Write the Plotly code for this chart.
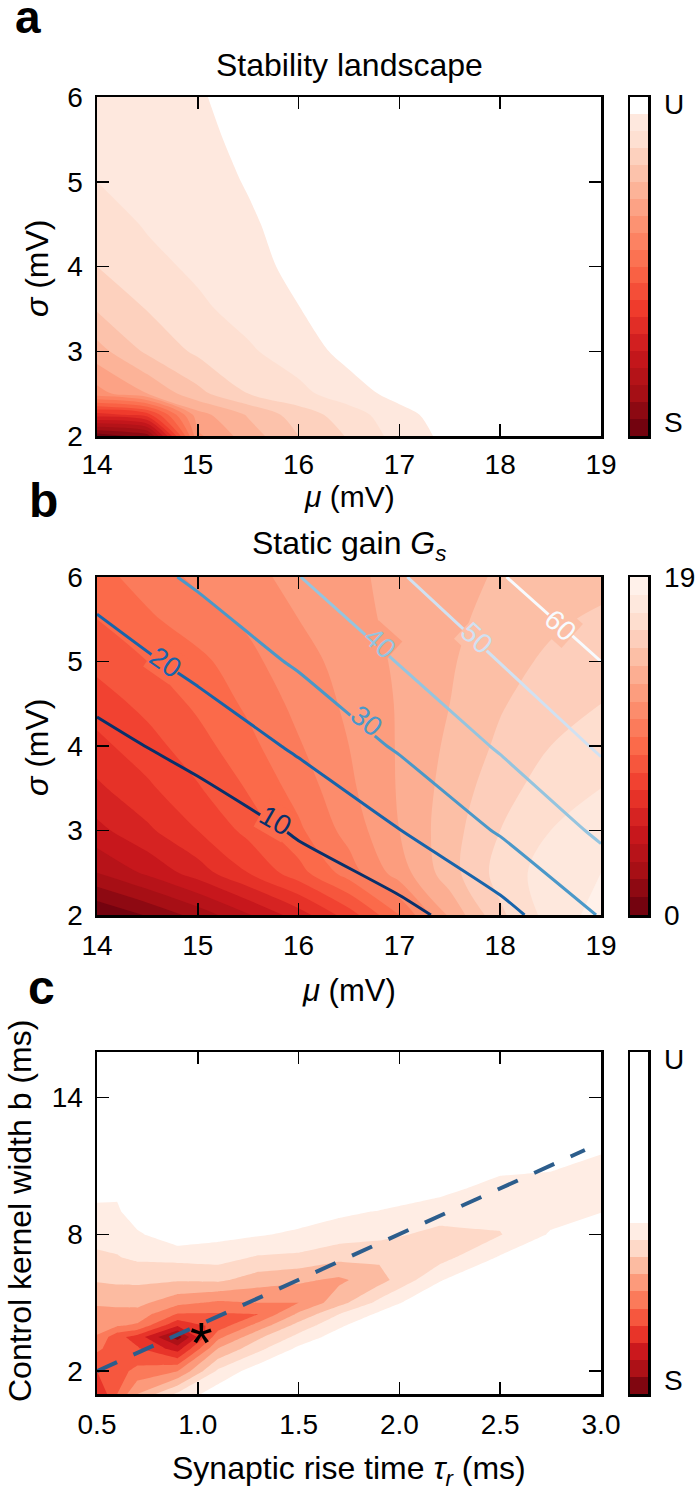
import numpy as np
import plotly.graph_objects as go

# ---------------- data ----------------
# Panel a : stability landscape (0 = stable S ... 20 = unstable U)
mu_a = [14.0, 14.5, 15.0, 15.5, 16.0, 16.5, 17.0, 17.5, 18.0, 18.5, 19.0]
sigma_a = [2.0, 2.25, 2.5, 3.0, 3.5, 4.0, 4.5, 5.0, 5.5, 6.0]
stability_a = [
    [0.3, 1.5, 12.8, 14.5, 16.0, 17.1, 18.4, 19.3, 19.6, 19.6, 19.6],
    [6.5, 7.5, 13.6, 15.1, 16.5, 17.5, 18.7, 19.45, 19.6, 19.6, 19.6],
    [12.6, 14.0, 15.7, 17.0, 17.7, 18.6, 19.3, 19.6, 19.6, 19.6, 19.6],
    [14.6, 16.2, 17.2, 17.85, 18.55, 19.3, 19.6, 19.6, 19.6, 19.6, 19.6],
    [16.1, 17.05, 17.8, 18.4, 18.98, 19.4, 19.6, 19.6, 19.6, 19.6, 19.6],
    [17.0, 17.7, 18.2, 18.75, 19.2, 19.6, 19.6, 19.6, 19.6, 19.6, 19.6],
    [17.5, 18.1, 18.5, 18.9, 19.3, 19.6, 19.6, 19.6, 19.6, 19.6, 19.6],
    [18.0, 18.35, 18.7, 19.05, 19.35, 19.6, 19.6, 19.6, 19.6, 19.6, 19.6],
    [18.3, 18.55, 18.85, 19.15, 19.4, 19.6, 19.6, 19.6, 19.6, 19.6, 19.6],
    [18.5, 18.75, 18.95, 19.2, 19.45, 19.6, 19.6, 19.6, 19.6, 19.6, 19.6],
]

# Panel b : static gain G_s (filled) and rate contours (lines)
mu_b = [14.0, 14.5, 15.0, 15.5, 16.0, 16.5, 17.0, 17.5, 18.0, 18.5, 19.0]
sigma_b = [2.0, 2.5, 3.0, 3.5, 4.0, 4.5, 5.0, 5.5, 6.0]
gain_b = [
    [0.0, 1.1, 2.4, 3.9, 5.5, 7.5, 10.0, 13.2, 15.8, 17.4, 18.4],
    [3.0, 4.2, 5.5, 7.0, 8.6, 10.5, 12.5, 14.6, 16.4, 17.5, 18.0],
    [4.7, 5.8, 7.0, 8.3, 9.8, 11.4, 13.0, 14.6, 16.0, 17.0, 17.6],
    [5.8, 6.8, 7.9, 9.1, 10.4, 11.8, 13.1, 14.4, 15.6, 16.5, 17.0],
    [6.7, 7.6, 8.6, 9.7, 10.9, 12.0, 13.1, 14.2, 15.2, 16.0, 16.5],
    [7.5, 8.3, 9.2, 10.2, 11.3, 12.2, 13.1, 14.0, 14.9, 15.6, 16.0],
    [8.3, 9.0, 9.7, 10.7, 11.7, 12.3, 13.2, 13.9, 14.6, 15.2, 15.5],
    [9.0, 9.8, 10.6, 11.2, 12.0, 12.6, 13.3, 13.8, 14.3, 14.8, 15.2],
    [9.6, 10.5, 11.2, 11.75, 12.27, 12.8, 13.27, 13.7, 14.1, 14.4, 14.6],
]
mu_rate = [14.0, 15.0, 16.0, 17.0, 18.0, 19.0]
sigma_rate = [2.0, 3.0, 4.0, 5.0, 6.0]
rate_b = [
    [1.8, 2.8, 4.2, 7.0, 16.6, 30.7],
    [2.5, 5.0, 10.8, 19.8, 31.0, 41.7],
    [7.5, 12.8, 21.5, 31.2, 41.0, 51.2],
    [14.8, 23.0, 31.2, 40.4, 50.2, 60.0],
    [24.1, 31.5, 39.8, 49.2, 59.4, 69.0],
]
rate_levels = [10, 20, 30, 40, 50, 60]
# inline label placement (mu, sigma, angle in degrees)
rate_label_mu = [15.77, 14.68, 16.67, 16.80, 17.76, 18.60]
rate_label_sigma = [3.12, 4.99, 4.30, 5.22, 5.28, 5.43]
rate_label_angle = [30, 35, 39, 42, 43, 42]

# Panel c : stability vs synaptic rise time and kernel width
tau_c = [0.5, 0.6, 0.7, 0.9, 1.1, 1.3, 1.5, 1.7, 1.9, 2.2, 2.5, 2.75, 3.0]
width_c = [1, 2, 3, 3.5, 4, 4.5, 5, 6, 7, 8, 9, 10, 11, 12, 14, 16]
stability_c_cols = [  # one list per tau value, along width_c
    [3.0, 4.0, 5.2, 5.9, 6.4, 6.75, 7.1, 8.1, 8.85, 9.3, 9.75, 10.4, 11.3, 12.2, 13.5, 15.0],
    [5.0, 4.6, 4.5, 4.3, 6.1, 6.7, 7.2, 8.2, 8.95, 9.35, 9.85, 10.2, 11.2, 12.2, 13.5, 15.0],
    [7.0, 5.3, 4.1, 3.6, 5.85, 6.6, 7.3, 8.2, 9.2, 9.85, 10.6, 11.3, 12.0, 12.8, 14.0, 15.0],
    [9.2, 6.0, 2.5, 0.5, 3.1, 4.9, 6.3, 8.1, 9.3, 10.7, 11.5, 12.2, 12.8, 13.4, 14.5, 15.5],
    [10.6, 9.2, 7.0, 5.7, 4.4, 4.9, 5.8, 8.2, 9.4, 10.3, 11.0, 11.7, 12.4, 13.0, 14.0, 15.0],
    [12.0, 10.6, 8.7, 7.8, 6.4, 5.0, 6.0, 7.5, 8.9, 10.1, 11.0, 11.7, 12.3, 12.9, 14.0, 15.0],
    [13.0, 11.8, 10.2, 9.3, 8.4, 7.2, 6.0, 7.2, 8.8, 9.8, 10.6, 11.3, 12.0, 12.6, 13.6, 14.6],
    [14.0, 13.0, 11.2, 10.5, 9.8, 9.0, 7.6, 6.8, 8.3, 9.5, 10.2, 10.9, 11.6, 12.2, 13.3, 14.3],
    [15.0, 14.0, 12.5, 11.8, 11.0, 10.2, 9.3, 7.6, 8.2, 9.3, 9.95, 10.9, 11.5, 12.1, 13.1, 14.0],
    [16.0, 15.0, 14.0, 13.4, 12.7, 12.0, 11.2, 9.9, 8.6, 8.7, 9.5, 10.3, 11.0, 11.6, 12.7, 13.6],
    [17.0, 16.0, 15.0, 14.5, 14.0, 13.4, 12.8, 11.5, 10.1, 8.95, 9.3, 9.6, 10.3, 11.0, 12.2, 13.2],
    [18.0, 17.0, 16.0, 15.5, 15.0, 14.5, 13.9, 12.6, 11.2, 10.1, 9.6, 9.7, 10.1, 10.8, 12.0, 13.0],
    [19.0, 18.0, 17.0, 16.5, 16.0, 15.5, 15.0, 13.6, 12.3, 11.0, 9.95, 9.7, 9.8, 10.2, 11.5, 12.5],
]
optimal_tau = [0.5, 1.0, 1.5, 2.0, 2.5, 2.92]
optimal_width = [2.0, 4.0, 6.0, 8.0, 10.0, 11.7]
star_tau = [1.02]
star_width = [3.85]

ticks_mu = [14, 15, 16, 17, 18, 19]
ticks_sigma = [2, 3, 4, 5, 6]
ticks_tau = [0.5, 1.0, 1.5, 2.0, 2.5, 3.0]
ticks_width = [2, 8, 14]

# ---------------- colours ----------------
REDS = [(0.0, (255, 245, 240)), (0.125, (254, 224, 210)), (0.25, (252, 187, 161)),
        (0.375, (252, 146, 114)), (0.5, (251, 106, 74)), (0.625, (239, 59, 44)),
        (0.75, (203, 24, 29)), (0.875, (165, 15, 21)), (1.0, (103, 0, 13))]
BLUES = [(0.0, (247, 251, 255)), (0.125, (222, 235, 247)), (0.25, (198, 219, 239)),
         (0.375, (158, 202, 225)), (0.5, (107, 174, 214)), (0.625, (66, 146, 198)),
         (0.75, (33, 113, 181)), (0.875, (8, 81, 156)), (1.0, (8, 48, 107))]


def cmap(stops, t):
    t = min(max(t, 0.0), 1.0)
    for (t0, c0), (t1, c1) in zip(stops[:-1], stops[1:]):
        if t <= t1:
            f = (t - t0) / (t1 - t0)
            c = [round(a + (b - a) * f) for a, b in zip(c0, c1)]
            return "rgb(%d,%d,%d)" % tuple(c)
    return "rgb(%d,%d,%d)" % stops[-1][1]


def scale_from(colors):
    n = len(colors)
    return [[k / (n - 1), c] for k, c in enumerate(colors)]


cols_a = [cmap(REDS, (19.5 - k) / 20) for k in range(19)] + ["rgb(255,255,255)"]
cols_b = [cmap(REDS, (18.5 - k) / 19) for k in range(19)]
cols_c = [cmap(REDS, (9.5 - k) / 10) for k in range(10)] + ["rgb(255,255,255)"] * 10
rmin, rmax = rate_levels[0], rate_levels[-1]
blues_r = [[1 - t, "rgb(%d,%d,%d)" % c] for t, c in reversed(BLUES)]


def rate_color(v):
    return cmap(BLUES, 1 - (v - rmin) / (rmax - rmin))


def gain_at(m, s):
    # bilinear lookup in the gain grid (used only for the label background)
    g = np.array(gain_b)
    i = min(max(np.searchsorted(sigma_b, s) - 1, 0), len(sigma_b) - 2)
    j = min(max(np.searchsorted(mu_b, m) - 1, 0), len(mu_b) - 2)
    fy = (s - sigma_b[i]) / (sigma_b[i + 1] - sigma_b[i])
    fx = (m - mu_b[j]) / (mu_b[j + 1] - mu_b[j])
    return (g[i, j] * (1 - fx) * (1 - fy) + g[i, j + 1] * fx * (1 - fy)
            + g[i + 1, j] * (1 - fx) * fy + g[i + 1, j + 1] * fx * fy)


W, H = 700, 1493
FONT = "Liberation Sans"


def px(x):
    return x / W


def py(y):
    return 1 - y / H


plot_x = [px(97), px(601)]
dom_a = [py(436), py(97)]
dom_b = [py(915), py(577)]
dom_c = [py(1394), py(1052)]
cb_x = [px(630), px(648)]

fig = go.Figure()

# panel a
fig.add_trace(go.Contour(x=mu_a, y=sigma_a, z=stability_a, xaxis="x", yaxis="y",
                         autocontour=False,
                         contours=dict(start=1, end=19, size=1, coloring="fill", showlines=False),
                         colorscale=scale_from(cols_a), showscale=False,
                         line=dict(width=0, smoothing=0.8), hoverinfo="skip"))
# panel b
fig.add_trace(go.Contour(x=mu_b, y=sigma_b, z=gain_b, xaxis="x2", yaxis="y2",
                         autocontour=False,
                         contours=dict(start=1, end=18, size=1, coloring="fill", showlines=False),
                         colorscale=scale_from(cols_b), showscale=False,
                         line=dict(width=0, smoothing=1), hoverinfo="skip"))
fig.add_trace(go.Contour(x=mu_rate, y=sigma_rate, z=rate_b, xaxis="x2", yaxis="y2",
                         autocontour=False,
                         contours=dict(start=rmin, end=rmax, size=rate_levels[1] - rate_levels[0],
                                       coloring="lines", showlabels=False),
                         colorscale=blues_r, showscale=False,
                         line=dict(width=3, smoothing=0.6), hoverinfo="skip"))
# panel c
stability_c = np.array(stability_c_cols).T.tolist()
fig.add_trace(go.Contour(x=tau_c, y=width_c, z=stability_c, xaxis="x3", yaxis="y3",
                         autocontour=False,
                         contours=dict(start=1, end=19, size=1, coloring="fill", showlines=False),
                         colorscale=scale_from(cols_c), showscale=False,
                         line=dict(width=0, smoothing=0), hoverinfo="skip"))
fig.add_trace(go.Scatter(x=optimal_tau, y=optimal_width, xaxis="x3", yaxis="y3",
                         mode="lines", line=dict(color="#2c5d8c", width=4, dash="22px,18px"),
                         hoverinfo="skip"))

# colour bars (drawn as small heatmaps)
for cols, xa, ya in [(cols_a, "x4", "y4"), (cols_b, "x5", "y5"), (cols_c, "x6", "y6")]:
    n = len(cols)
    fig.add_trace(go.Heatmap(x=[0], y=[k + 0.5 for k in range(n)], z=[[k] for k in range(n)],
                             zmin=0, zmax=n - 1, colorscale=scale_from(cols), showscale=False,
                             xaxis=xa, yaxis=ya, hoverinfo="skip"))

frame = dict(showline=True, linewidth=2.5, linecolor="black", mirror="allticks",
             ticks="inside", ticklen=12, tickwidth=1.5, tickcolor="black",
             showgrid=False, zeroline=False, automargin=False,
             tickfont=dict(family=FONT, size=28, color="black"))

lay = dict(template="none", width=W, height=H, margin=dict(l=0, r=0, t=0, b=0, autoexpand=False),
           paper_bgcolor="white", plot_bgcolor="white", showlegend=False,
           font=dict(family=FONT, color="black"), hovermode=False)

lay["xaxis"] = dict(frame, domain=plot_x, range=[14, 19], anchor="y", tickvals=ticks_mu, ticklabelstandoff=2)
lay["yaxis"] = dict(frame, domain=dom_a, range=[2, 6], anchor="x", tickvals=ticks_sigma, ticklabelstandoff=6)
lay["xaxis2"] = dict(frame, domain=plot_x, range=[14, 19], anchor="y2", tickvals=ticks_mu, ticklabelstandoff=4)
lay["yaxis2"] = dict(frame, domain=dom_b, range=[2, 6], anchor="x2", tickvals=ticks_sigma, ticklabelstandoff=6)
lay["xaxis3"] = dict(frame, domain=plot_x, range=[0.5, 3.0], anchor="y3", tickvals=ticks_tau,
                     tickformat=".1f", ticklabelstandoff=4)
lay["yaxis3"] = dict(frame, domain=dom_c, range=[1, 16], anchor="x3", tickvals=ticks_width, ticklabelstandoff=6)

cb_common_x = dict(showline=True, linewidth=2.5, linecolor="black", mirror=True, ticks="",
                   showticklabels=False, showgrid=False, zeroline=False, automargin=False,
                   range=[-0.5, 0.5], domain=cb_x)
cb_common_y = dict(showline=True, linewidth=2.5, linecolor="black", mirror=True, side="right",
                   ticks="outside", ticklen=8, tickcolor="rgba(0,0,0,0)", showgrid=False,
                   zeroline=False, automargin=False,
                   tickfont=dict(family=FONT, size=28, color="black"))
lay["xaxis4"] = dict(cb_common_x, anchor="y4")
lay["yaxis4"] = dict(cb_common_y, domain=dom_a, range=[0, 20], anchor="x4",
                     tickvals=[0.8, 19.6], ticktext=["S", "U"])
lay["xaxis5"] = dict(cb_common_x, anchor="y5")
lay["yaxis5"] = dict(cb_common_y, domain=dom_b, range=[0, 19], anchor="x5",
                     tickvals=[0, 19], ticktext=["0", "19"])
lay["xaxis6"] = dict(cb_common_x, anchor="y6")
lay["yaxis6"] = dict(cb_common_y, domain=dom_c, range=[0, 20], anchor="x6",
                     tickvals=[0.8, 19.6], ticktext=["S", "U"])


def ann(text, x, y, size, angle=0, bold=False, xanchor="center"):
    return dict(text=("<b>%s</b>" % text) if bold else text, x=px(x), y=py(y),
                xref="paper", yref="paper", showarrow=False, textangle=angle,
                xanchor=xanchor, yanchor="middle",
                font=dict(family=FONT, size=size, color="black"))


annotations = [
    ann("a", 28, 17, 46, bold=True),
    ann("b", 43, 500, 48, bold=True),
    ann("c", 41, 987, 48, bold=True),
    ann("Stability landscape", 349, 65, 32),
    ann("Static gain <i>G</i><sub><i>s</i></sub>", 349, 545, 32),
    ann("<i>μ</i> (mV)", 349, 497, 30),
    ann("<i>μ</i> (mV)", 349, 990, 31),
    ann("Synaptic rise time <i>τ</i><sub><i>r</i></sub> (ms)", 349, 1470, 32),
    ann("<i>σ</i> (mV)", 37, 268, 32, angle=-90),
    ann("<i>σ</i> (mV)", 37, 747, 32, angle=-90),
    ann("Control kernel width b (ms)", 20, 1211, 32, angle=-90),
]
# inline contour labels of panel b (text box masks the line like matplotlib's clabel)
for lv, m, s, ang in zip(rate_levels, rate_label_mu, rate_label_sigma, rate_label_angle):
    band = int(min(max(np.floor(gain_at(m, s)), 0), len(cols_b) - 1))
    annotations.append(dict(text=str(lv), x=m, y=s, xref="x2", yref="y2", showarrow=False,
                            textangle=ang, bgcolor=cols_b[band], borderpad=0,
                            font=dict(family=FONT, size=28, color=rate_color(lv))))
annotations.append(dict(text="*", x=star_tau[0], y=star_width[0], xref="x3", yref="y3",
                        showarrow=False, yshift=-13,
                        font=dict(family=FONT, size=58, color="black")))
lay["annotations"] = annotations

fig.update_layout(**lay)
fig.write_html("out.html", config={"displayModeBar": False, "staticPlot": True},
               post_script="document.body.style.margin='0px';")
